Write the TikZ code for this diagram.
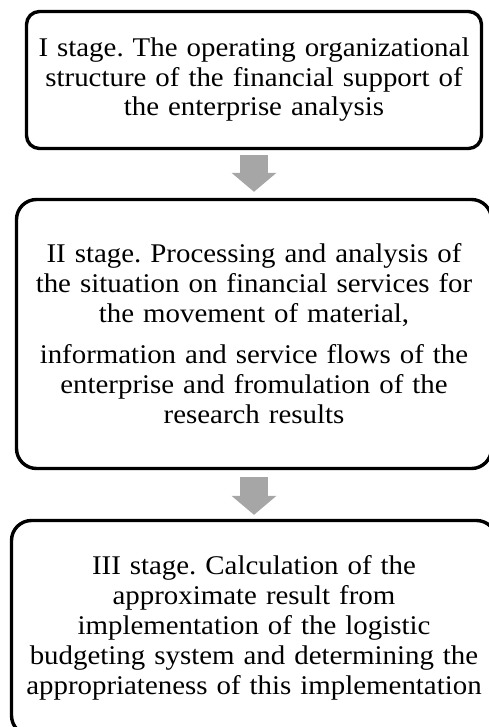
\documentclass[tikz,border=0pt]{standalone}
\usepackage{fontspec}
\setmainfont[FakeStretch=1.07]{Liberation Serif}
\usetikzlibrary{arrows.meta}

\definecolor{flowgray}{RGB}{166,166,166}

\tikzstyle{stage}=[draw=black, line width=3.4pt, inner sep=0pt, align=center]
\tikzstyle{flow}=[flowgray, line width=28pt, -{Triangle[width=45pt, length=19pt, line width=0pt]}]

\begin{document}
\frenchspacing
\begin{tikzpicture}[x=1pt, y=-1pt]
      \useasboundingbox (0, 0) rectangle (489, 727);

      \node[stage, rounded corners=13pt, minimum width=455pt, minimum height=137pt,
            text width=445pt, font=\fontsize{27}{29.5}\selectfont] (s1) at (254, 80)
            {I stage. The operating organizational\\ structure of the financial support of\\ the enterprise analysis};
      \node[stage, rounded corners=20pt, minimum width=475pt, minimum height=269pt,
            text width=465pt, font=\fontsize{27}{30}\selectfont] (s2) at (254, 334)
            {II stage. Processing and analysis of\\ the situation on financial services for\\ the movement of material,\\[11pt]
             information and service flows of the\\ enterprise and fromulation of the\\ research results};
      \node[stage, rounded corners=20pt, minimum width=485pt, minimum height=215pt,
            text width=475pt, font=\fontsize{27}{30}\selectfont] (s3) at (254, 628)
            {III stage. Calculation of the\\ approximate result from\\ implementation of the logistic\\
             budgeting system and determining the\\ appropriateness of this implementation};

      \draw[flow, shorten <=5pt, shorten >=6pt] (s1.south) -- (s2.north);
      \draw[flow, shorten <=7pt, shorten >=4pt] (s2.south) -- (s3.north);
    \end{tikzpicture}
\end{document}
